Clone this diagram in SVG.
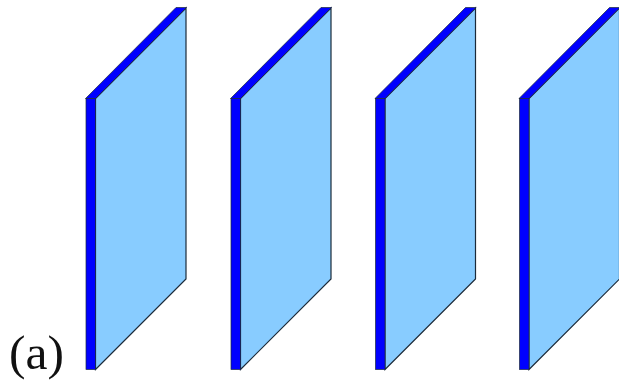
<svg xmlns="http://www.w3.org/2000/svg" width="619" height="381" viewBox="0 0 619 381">
<defs>
<style>
.s{stroke:#1c2b3a;stroke-width:1.2;stroke-linejoin:miter}
.t{stroke:#1c2b3a;stroke-width:0.7;stroke-linejoin:miter}
.f{fill:#88ccff}
.b{fill:#0000ff}
</style>
<g id="panel">
<polygon class="s f" points="95.500,98.500 186,8 186,279 95.500,369.500"/>
<polygon class="t b" points="85.500,98.500 176,7.500 186.500,7.500 95.500,98.500"/>
<rect class="t b" x="86" y="98.500" width="9.500" height="271"/>
</g>
</defs>
<rect width="619" height="381" fill="#ffffff"/>
<g id="plate1"><use href="#panel"/></g>
<g id="plate2"><use href="#panel" x="145"/></g>
<g id="plate3"><use href="#panel" x="289.500"/></g>
<g id="plate4"><use href="#panel" x="433.500"/></g>
<text id="label" x="9" y="369" font-family="'Liberation Serif',serif" font-size="49.500" fill="#111111">(a)</text>
</svg>
